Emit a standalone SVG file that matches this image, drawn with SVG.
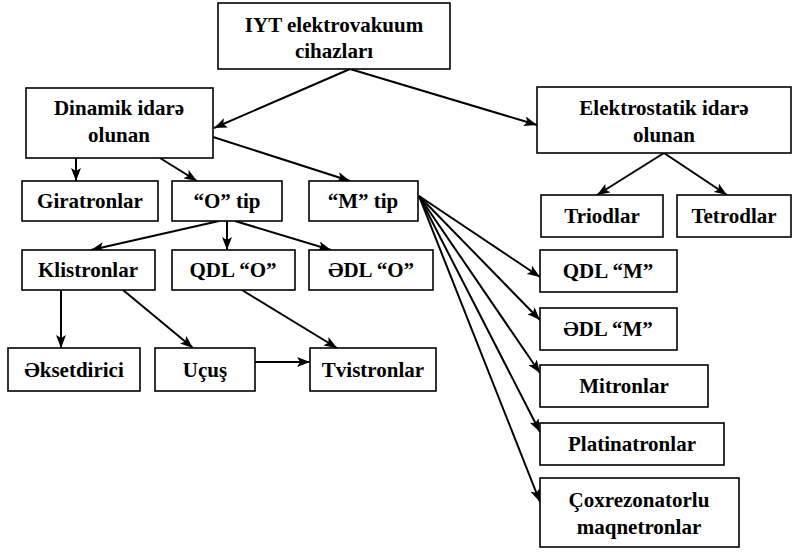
<svg xmlns="http://www.w3.org/2000/svg" width="796" height="552" viewBox="0 0 796 552">
<defs>
<marker id="ah" markerUnits="userSpaceOnUse" markerWidth="14" markerHeight="10" refX="13" refY="5" orient="auto">
<path d="M0,0 L13,5 L0,10 L3,5 z" fill="#000"/>
</marker>
<style>
.b{fill:#fff;stroke:#000;stroke-width:1.6}
.t{font-family:"Liberation Serif","Times New Roman",serif;font-weight:bold;font-size:21px;text-anchor:middle;fill:#000}
.c{stroke:#000;stroke-width:2;fill:none;marker-end:url(#ah)}
</style>
</defs>
<rect width="796" height="552" fill="#fff"/>
<g id="connectors">
<line class="c" x1="350" y1="69" x2="214" y2="128"/>
<line class="c" x1="350" y1="69" x2="537" y2="125"/>
<line class="c" x1="76" y1="158" x2="76" y2="181"/>
<line class="c" x1="160" y1="158" x2="197" y2="181"/>
<line class="c" x1="213" y1="137" x2="350" y2="181"/>
<line class="c" x1="664" y1="153" x2="597" y2="195"/>
<line class="c" x1="664" y1="153" x2="727" y2="195"/>
<line class="c" x1="219" y1="221" x2="91" y2="250"/>
<line class="c" x1="227" y1="221" x2="227" y2="250"/>
<line class="c" x1="235" y1="221" x2="331" y2="250"/>
<line class="c" x1="61" y1="290" x2="61" y2="348"/>
<line class="c" x1="123" y1="290" x2="193" y2="348"/>
<line class="c" x1="242" y1="290" x2="337" y2="348"/>
<line class="c" x1="255" y1="362" x2="310" y2="362"/>
<line class="c" x1="419" y1="196" x2="540" y2="277"/>
<line class="c" x1="419" y1="196" x2="540" y2="320"/>
<line class="c" x1="419" y1="196" x2="540" y2="373"/>
<line class="c" x1="419" y1="196" x2="540" y2="432"/>
<line class="c" x1="419" y1="196" x2="540" y2="502"/>
</g>
<g id="n-root"><rect class="b" x="218" y="3" width="232" height="66"/><text class="t" x="334" y="32">IYT elektrovakuum</text><text class="t" x="334" y="58">cihazları</text></g>
<g id="n-dinamik"><rect class="b" x="26" y="88" width="187" height="70"/><text class="t" x="119" y="115">Dinamik idarə</text><text class="t" x="119" y="142">olunan</text></g>
<g id="n-elektrostatik"><rect class="b" x="537" y="87" width="254" height="66"/><text class="t" x="664" y="115">Elektrostatik idarə</text><text class="t" x="664" y="142">olunan</text></g>
<g id="n-giratronlar"><rect class="b" x="22" y="181" width="136" height="40"/><text class="t" x="90" y="208">Giratronlar</text></g>
<g id="n-otip"><rect class="b" x="172" y="181" width="110" height="40"/><text class="t" x="227" y="208">“O” tip</text></g>
<g id="n-mtip"><rect class="b" x="309" y="181" width="109" height="40"/><text class="t" x="363" y="208">“M” tip</text></g>
<g id="n-triodlar"><rect class="b" x="541" y="195" width="122" height="42"/><text class="t" x="602" y="223">Triodlar</text></g>
<g id="n-tetrodlar"><rect class="b" x="677" y="195" width="114" height="42"/><text class="t" x="734" y="223">Tetrodlar</text></g>
<g id="n-klistronlar"><rect class="b" x="22" y="250" width="133" height="40"/><text class="t" x="88" y="277">Klistronlar</text></g>
<g id="n-qdlo"><rect class="b" x="172" y="250" width="123" height="40"/><text class="t" x="233" y="277">QDL “O”</text></g>
<g id="n-edlo"><rect class="b" x="309" y="250" width="124" height="40"/><text class="t" x="371" y="277">ƏDL “O”</text></g>
<g id="n-qdlm"><rect class="b" x="540" y="250" width="137" height="42"/><text class="t" x="608" y="278">QDL “M”</text></g>
<g id="n-edlm"><rect class="b" x="540" y="308" width="137" height="42"/><text class="t" x="608" y="336">ƏDL “M”</text></g>
<g id="n-mitronlar"><rect class="b" x="540" y="365" width="168" height="42"/><text class="t" x="624" y="393">Mitronlar</text></g>
<g id="n-platinatronlar"><rect class="b" x="540" y="423" width="184" height="42"/><text class="t" x="632" y="451">Platinatronlar</text></g>
<g id="n-coxrezonatorlu"><rect class="b" x="540" y="478" width="199" height="69"/><text class="t" x="639" y="507">Çoxrezonatorlu</text><text class="t" x="639" y="534">maqnetronlar</text></g>
<g id="n-eksetdirici"><rect class="b" x="8" y="348" width="132" height="43"/><text class="t" x="74" y="377">Əksetdirici</text></g>
<g id="n-ucus"><rect class="b" x="155" y="348" width="100" height="43"/><text class="t" x="205" y="377">Uçuş</text></g>
<g id="n-tvistronlar"><rect class="b" x="310" y="348" width="126" height="43"/><text class="t" x="373" y="377">Tvistronlar</text></g>
</svg>
